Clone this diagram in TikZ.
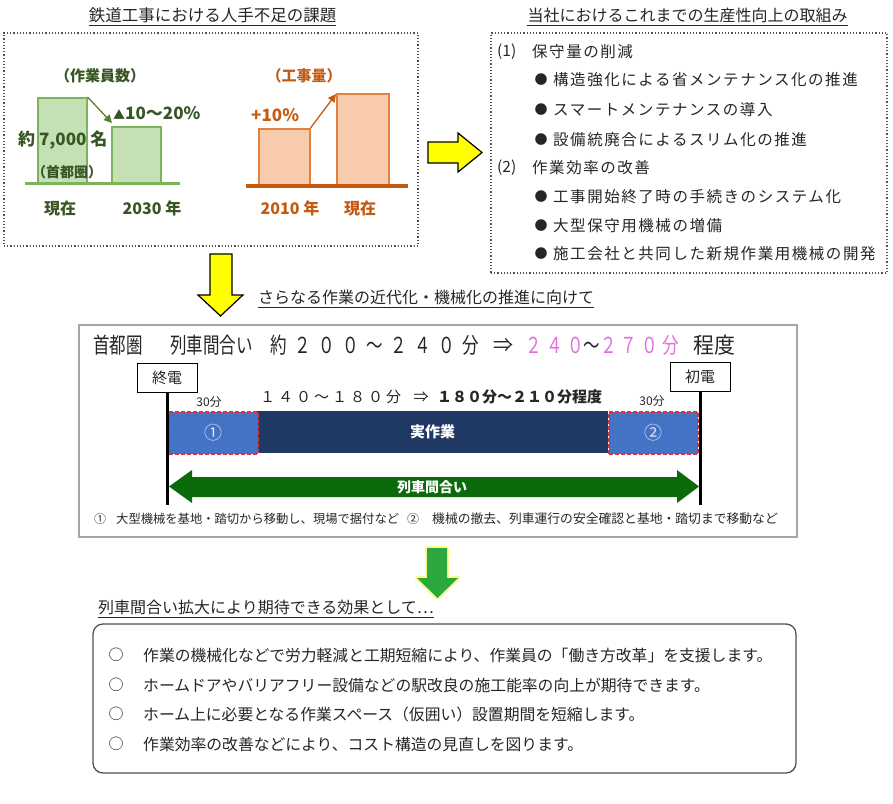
\documentclass[tikz,border=0pt]{standalone}
\usepackage{fontspec}
\setmainfont{Noto Sans CJK JP}
\usetikzlibrary{arrows.meta}
\definecolor{txt}{HTML}{262626}
\definecolor{gtext}{HTML}{375623}
\definecolor{gfill}{HTML}{C5E0B4}
\definecolor{gline}{HTML}{7DB35A}
\definecolor{garrow}{HTML}{548235}
\definecolor{otext}{HTML}{C55A11}
\definecolor{ofill}{HTML}{F8CBAD}
\definecolor{oline}{HTML}{E2803F}
\definecolor{pinkc}{HTML}{E070E0}
\definecolor{blueblk}{HTML}{4472C4}
\definecolor{navy}{HTML}{203864}
\definecolor{redd}{HTML}{E0303C}
\definecolor{dgreen}{HTML}{0B6B0B}
\definecolor{garr}{HTML}{2BA83F}
\definecolor{mgray}{HTML}{A6A6A6}
\definecolor{circ}{HTML}{DCE6F4}
\definecolor{yell}{HTML}{FFFF00}
\newcommand\jfs[1]{\fontsize{#1}{#1}\selectfont}
\tikzset{
  ttl/.style={font=\jfs{16}, text=txt},
  uline/.style={draw=txt, line width=1pt},
  dotbox/.style={draw=txt!80, dotted, line width=1.2pt},
  gbar/.style={draw=gline, fill=gfill, line width=1.5pt, anchor=north west},
  obar/.style={draw=oline, fill=ofill, line width=1.5pt, anchor=north west},
  gt/.style={text=gtext, font=\jfs{16}\bfseries},
  ot/.style={text=otext, font=\jfs{16}\bfseries},
  rtxt/.style={anchor=west, text=txt, font={\jfs{15.5}\addfontfeature{LetterSpace=10}}},
  bul/.style={text=txt, font=\jfs{13}},
  blk/.style={fill=blueblk, draw=redd, dash pattern=on 4pt off 2pt, line width=1.5pt},
  yarrow/.style={fill=yell, draw=black, line width=1.2pt, line join=miter},
  btxt/.style={anchor=west, text=txt, font=\jfs{15.8}},
  head/.style={anchor=west, text=txt, font={\jfs{22}\addfontfeature{FakeStretch=0.75}}},
  stn/.style={draw=black, fill=white, line width=1pt, minimum width=60pt, minimum height=29pt, font=\jfs{15}, text=txt},
}
\begin{document}
\begin{tikzpicture}[x=1pt,y=-1pt, every node/.style={inner sep=0pt}]
\useasboundingbox (0,0) rectangle (893,803);
\fill[white] (0,0) rectangle (893,803);

% ---------- titles ----------
\node[ttl, font=\jfs{16.5}] (t1) at (212.5,15) {鉄道工事における人手不足の課題};
\draw[uline] ([yshift=-2.5pt]t1.south west) -- ([yshift=-2.5pt]t1.south east);
\node[ttl] (t2) at (687.5,15) {当社におけるこれまでの生産性向上の取組み};
\draw[uline] ([yshift=-2.5pt]t2.south west) -- ([yshift=-2.5pt]t2.south east);

% ---------- left dotted panel ----------
\node[dotbox, minimum width=414pt, minimum height=213pt] (lbox) at (211,139.5) {};
% green chart
\node[gbar, minimum width=49pt, minimum height=86pt] (gb1) at (37,97) {};
\node[gbar, minimum width=49pt, minimum height=57pt] (gb2) at (111,126) {};
\coordinate (gl1) at (25,183);
\coordinate (gl2) at (180,183);
\draw[gline, line width=3pt] (gl1) -- (gl2);
\draw[garrow, line width=1.3pt, -{Triangle[length=8pt,width=8pt]}] (gb1.north east) -- ([shift={(1pt,3pt)}]gb2.north west);
\node[gt, font=\jfs{15}\bfseries] (gh) at (100,76) {（作業員数）};
\node[gt, anchor=west, font=\jfs{17}\bfseries] (gp) at (113,113) {{\jfs{12}▲}10～20\%};
\node[gt, anchor=west, font=\jfs{17}\bfseries] (gn) at (18,140) {約 7,000 名};
\node[gt, font=\jfs{14}\bfseries] (gs) at (67,172) {（首都圏）};
\node[gt] (gx1) at (60,208) {現在};
\node[gt] (gx2) at (152,208) {2030 年};
% orange chart
\node[obar, minimum width=51pt, minimum height=57pt] (ob1) at (258,128) {};
\node[obar, minimum width=52pt, minimum height=92pt] (ob2) at (336,93) {};
\coordinate (ol1) at (246,186);
\coordinate (ol2) at (408,186);
\draw[otext, line width=3.5pt] (ol1) -- (ol2);
\draw[otext, line width=1.3pt, -{Triangle[length=8pt,width=8pt]}] (ob1.north east) -- ([shift={(0pt,-1pt)}]ob2.north west);
\node[ot, font=\jfs{15}\bfseries] (oh) at (304,76) {（工事量）};
\node[ot, anchor=west, font=\jfs{17}\bfseries] (op) at (251,115) {+10\%};
\node[ot] (ox1) at (290,208) {2010 年};
\node[ot] (ox2) at (360,208) {現在};

% ---------- yellow right arrow ----------
\draw[yarrow] (428,142) -- (458,142) -- (458,133) -- (482,152.5) -- (458,172) -- (458,163) -- (428,163) -- cycle;

% ---------- right dotted panel ----------
\node[dotbox, minimum width=396pt, minimum height=240pt] (rbox) at (689,153) {};
\node[anchor=west, text=txt, font=\jfs{15.5}] (r1n) at (497,52) {(1)};
\node[rtxt] (r1) at (532,52) {保守量の削減};
\node[bul] (b1) at (541,80) {●};
\node[rtxt] (r11) at (553,80) {構造強化による省メンテナンス化の推進};
\node[bul] (b2) at (541,110) {●};
\node[rtxt] (r12) at (553,110) {スマートメンテナンスの導入};
\node[bul] (b3) at (541,140) {●};
\node[rtxt] (r13) at (553,140) {設備統廃合によるスリム化の推進};
\node[anchor=west, text=txt, font=\jfs{15.5}] (r2n) at (497,168) {(2)};
\node[rtxt] (r2) at (532,168) {作業効率の改善};
\node[bul] (b4) at (541,197) {●};
\node[rtxt] (r21) at (553,197) {工事開始終了時の手続きのシステム化};
\node[bul] (b5) at (541,226) {●};
\node[rtxt] (r22) at (553,226) {大型保守用機械の増備};
\node[bul] (b6) at (541,254) {●};
\node[rtxt] (r23) at (553,254) {施工会社と共同した新規作業用機械の開発};

% ---------- yellow down arrow ----------
\draw[yarrow] (210,254) -- (232,254) -- (232,295) -- (243,295) -- (220.5,316) -- (198,295) -- (210,295) -- cycle;
\node[ttl] (t3) at (426,297) {さらなる作業の近代化・機械化の推進に向けて};
\draw[uline] ([yshift=-2.5pt]t3.south west) -- ([yshift=-2.5pt]t3.south east);

% ---------- middle box ----------
\node[draw=mgray, line width=1.5pt, minimum width=718pt, minimum height=212pt] (mbox) at (438,431) {};
\node[head] (h1) at (93,345) {首都圏};
\node[head] (h2) at (170,345) {列車間合い};
\node[head, font={\jfs{22}\addfontfeature{FakeStretch=0.75,LetterSpace=34}}] (h3) at (270,345) {約２００～２４０分};
\node[text=txt, font=\jfs{20}] (h4) at (503,345) {⇒};
\node[head, font={\jfs{22}\addfontfeature{FakeStretch=0.75,LetterSpace=20}}] (h5) at (525,345) {\textcolor{pinkc}{２４０}～\textcolor{pinkc}{２７０分}};
\node[head, font={\jfs{22}\addfontfeature{FakeStretch=0.95}}] (h6) at (693,345) {程度};

\node[stn] (shu) at (167,377.5) {終電};
\node[stn] (shi) at (700,377) {初電};

\node[anchor=west, text=txt, font={\jfs{15}\addfontfeature{LetterSpace=20}}] (s1) at (260,397) {１４０～１８０分};
\node[text=txt, font=\jfs{15}] (s2) at (421,397) {⇒};
\node[anchor=west, text=txt, font=\jfs{15}\bfseries] (s3) at (437,397) {１８０分～２１０分程度};
\node[text=txt, font=\jfs{12}] (m1) at (209,402) {30分};
\node[text=txt, font=\jfs{12}] (m2) at (652,401) {30分};

\node[fill=navy, minimum width=351pt, minimum height=42pt, anchor=north west] (work) at (257,411) {};
\node[blk, minimum width=89pt, minimum height=42pt, anchor=north west] (blkA) at (168,411) {};
\node[blk, minimum width=89pt, minimum height=42pt, anchor=north west] (blkB) at (608,411) {};
\node[text=circ, font=\jfs{18}] at (blkA.center) {①};
\node[text=white, font=\jfs{15}\bfseries] at (work.center) {実作業};
\node[text=circ, font=\jfs{18}] at (blkB.center) {②};

\coordinate (e1) at (167,505);
\coordinate (e2) at (700,505);
\draw[black, line width=3pt] (shu.south) -- (e1);
\draw[black, line width=3pt] (shi.south) -- (e2);

\fill[dgreen] (169,486.5) -- (192,470) -- (192,477) -- (677,477) -- (677,470) -- (699,486.5) -- (677,503) -- (677,497) -- (192,497) -- (192,503) -- cycle;
\node[text=white, font=\jfs{14}\bfseries] (ga) at (432,487) {列車間合い};

\node[text=txt, font=\jfs{12}] (f1n) at (100,519) {①};
\node[anchor=west, text=txt, font=\jfs{12.3}] (f1) at (116,519) {大型機械を基地・踏切から移動し、現場で据付など};
\node[text=txt, font=\jfs{12}] (f2n) at (413,519) {②};
\node[anchor=west, text=txt, font=\jfs{12.8}] (f2) at (432,519) {機械の撤去、列車運行の安全確認と基地・踏切まで移動など};

% ---------- green down arrow ----------
\draw[yellow!45, line width=4pt, line join=round, fill=garr] (427,548) -- (447,548) -- (447,578) -- (458,578) -- (437.5,598) -- (417,578) -- (427,578) -- cycle;
\fill[garr] (427,548) -- (447,548) -- (447,578) -- (458,578) -- (437.5,598) -- (417,578) -- (427,578) -- cycle;

\node[ttl] (t4) at (266,607) {列車間合い拡大により期待できる効果として…};
\draw[uline] ([yshift=-2.5pt]t4.south west) -- ([yshift=-2.5pt]t4.south east);

% ---------- bottom box ----------
\node[draw=txt!80, line width=1.3pt, rounded corners=10pt, minimum width=703pt, minimum height=149pt] (bbox) at (444.5,698.5) {};
\node[text=txt, font=\jfs{15}] (c1) at (116,655) {○};
\node[btxt] (l1) at (143,655) {作業の機械化などで労力軽減と工期短縮により、作業員の「働き方改革」を支援します。};
\node[text=txt, font=\jfs{15}] (c2) at (116,685) {○};
\node[btxt] (l2) at (143,685) {ホームドアやバリアフリー設備などの駅改良の施工能率の向上が期待できます。};
\node[text=txt, font=\jfs{15}] (c3) at (116,714) {○};
\node[btxt] (l3) at (143,714) {ホーム上に必要となる作業スペース（仮囲い）設置期間を短縮します。};
\node[text=txt, font=\jfs{15}] (c4) at (116,744) {○};
\node[btxt] (l4) at (143,744) {作業効率の改善などにより、コスト構造の見直しを図ります。};
\end{tikzpicture}
\end{document}
